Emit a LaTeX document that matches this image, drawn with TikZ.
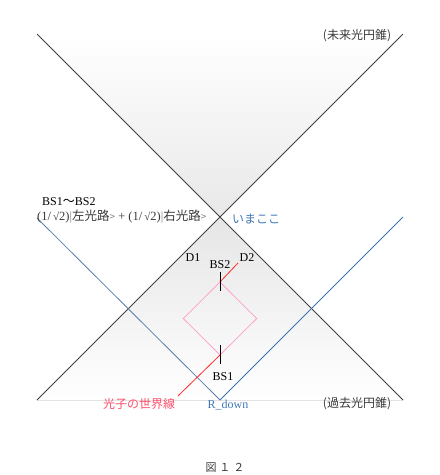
\documentclass[tikz,border=0pt]{standalone}
\usepackage{fontspec}
\setmainfont{Liberation Serif}
\newfontfamily\cjk{Noto Sans CJK JP}
\definecolor{coneline}{HTML}{404040}
\definecolor{blueL}{HTML}{5A7FA8}
\definecolor{blueR}{HTML}{3B74B2}
\definecolor{pinkd}{HTML}{FF9FCC}
\definecolor{redw}{HTML}{FF2A2A}
\definecolor{redlab}{HTML}{FF4D6A}
\definecolor{bluelab}{HTML}{3F78B5}
\definecolor{darktxt}{HTML}{3A3A3A}
\newcommand{\myket}[1]{{\color{gray}|}{\cjk #1{\color{gray}\fontsize{10}{11}\selectfont>}}}
\newcommand{\mysq}{(1/\,\raisebox{0.1ex}{\fontsize{11}{12}\selectfont√}2)}
\begin{document}
\begin{tikzpicture}[x=1pt,y=-1pt,
  cone/.style={draw=coneline,line width=0.8pt},
  lab/.style={inner sep=0pt,font=\fontsize{12}{14}\selectfont},
  jlab/.style={inner sep=0pt,font=\fontsize{12}{14}\selectfont\cjk},
  tick/.style={draw=black,line width=0.9pt}]
\useasboundingbox (0,0) rectangle (440,475);
% cone points
\coordinate (TL) at (37,34);
\coordinate (TR) at (403,34);
\coordinate (BL) at (37,400);
\coordinate (BR) at (403,400);
\coordinate (C) at (220,217);
% shading
\fill[top color=white,bottom color=gray!18] (TL) -- (C) -- (TR) -- cycle;
\fill[top color=gray!20,bottom color=white] (BL) -- (C) -- (BR) -- cycle;
\draw[cone] (TL) -- (BR);
\draw[cone] (TR) -- (BL);
% blue V
\coordinate (VL) at (37,218);
\coordinate (VB) at (220,400);
\coordinate (VR) at (403,217);
\draw[blueL,line width=0.8pt] (VL) -- (VB);
\draw[blueR,line width=0.8pt] (VB) -- (VR);
% diamond
\coordinate (dT) at (220,282);
\coordinate (dR) at (256.7,318.5);
\coordinate (dB) at (220,355);
\coordinate (dL) at (183.3,318.5);
\draw[pinkd,line width=0.8pt] (dT) -- (dR) -- (dB) -- (dL) -- cycle;
% red world line
\coordinate (rU) at (238,263);
\coordinate (rD) at (178,396);
\draw[redw,line width=0.8pt] (dT) -- (rU);
\draw[redw,line width=0.8pt] (dB) -- (rD);
% ticks
\coordinate (t1a) at (220,272);
\coordinate (t1b) at (220,291);
\coordinate (t2a) at (220,345);
\coordinate (t2b) at (220,364);
\draw[tick] (t1a) -- (t1b);
\draw[tick] (t2a) -- (t2b);
% labels
\node[jlab,text=darktxt] (fut) at (357,36) {(未来光円錐)};
\node[jlab,text=darktxt] (past) at (357,404) {(過去光円錐)};
\node[jlab,text=bluelab,anchor=west] (ima) at (232,219) {いまここ};
\node[lab,anchor=west] (bs12) at (42,202) {BS1{\cjk ～}BS2};
\node[lab,anchor=west,text=darktxt,font=\fontsize{12.5}{14}\selectfont] (form) at (37,217) {\mysq\myket{左光路} + \mysq\myket{右光路}};
\node[lab] (d1) at (193,258) {D1};
\node[lab] (bs2) at (220,265) {BS2};
\node[lab] (d2) at (247,258) {D2};
\node[lab] (bs1) at (223,377) {BS1};
\node[lab,text=bluelab] (rdown) at (228,405) {R\_down};
\node[jlab,text=redlab] (photon) at (139,404) {光子の世界線};
\node[jlab,text=darktxt,font=\fontsize{11}{12}\selectfont\cjk] (fig) at (225,468) {図\hspace{3pt}１\hspace{3pt}２};
\end{tikzpicture}
\end{document}
